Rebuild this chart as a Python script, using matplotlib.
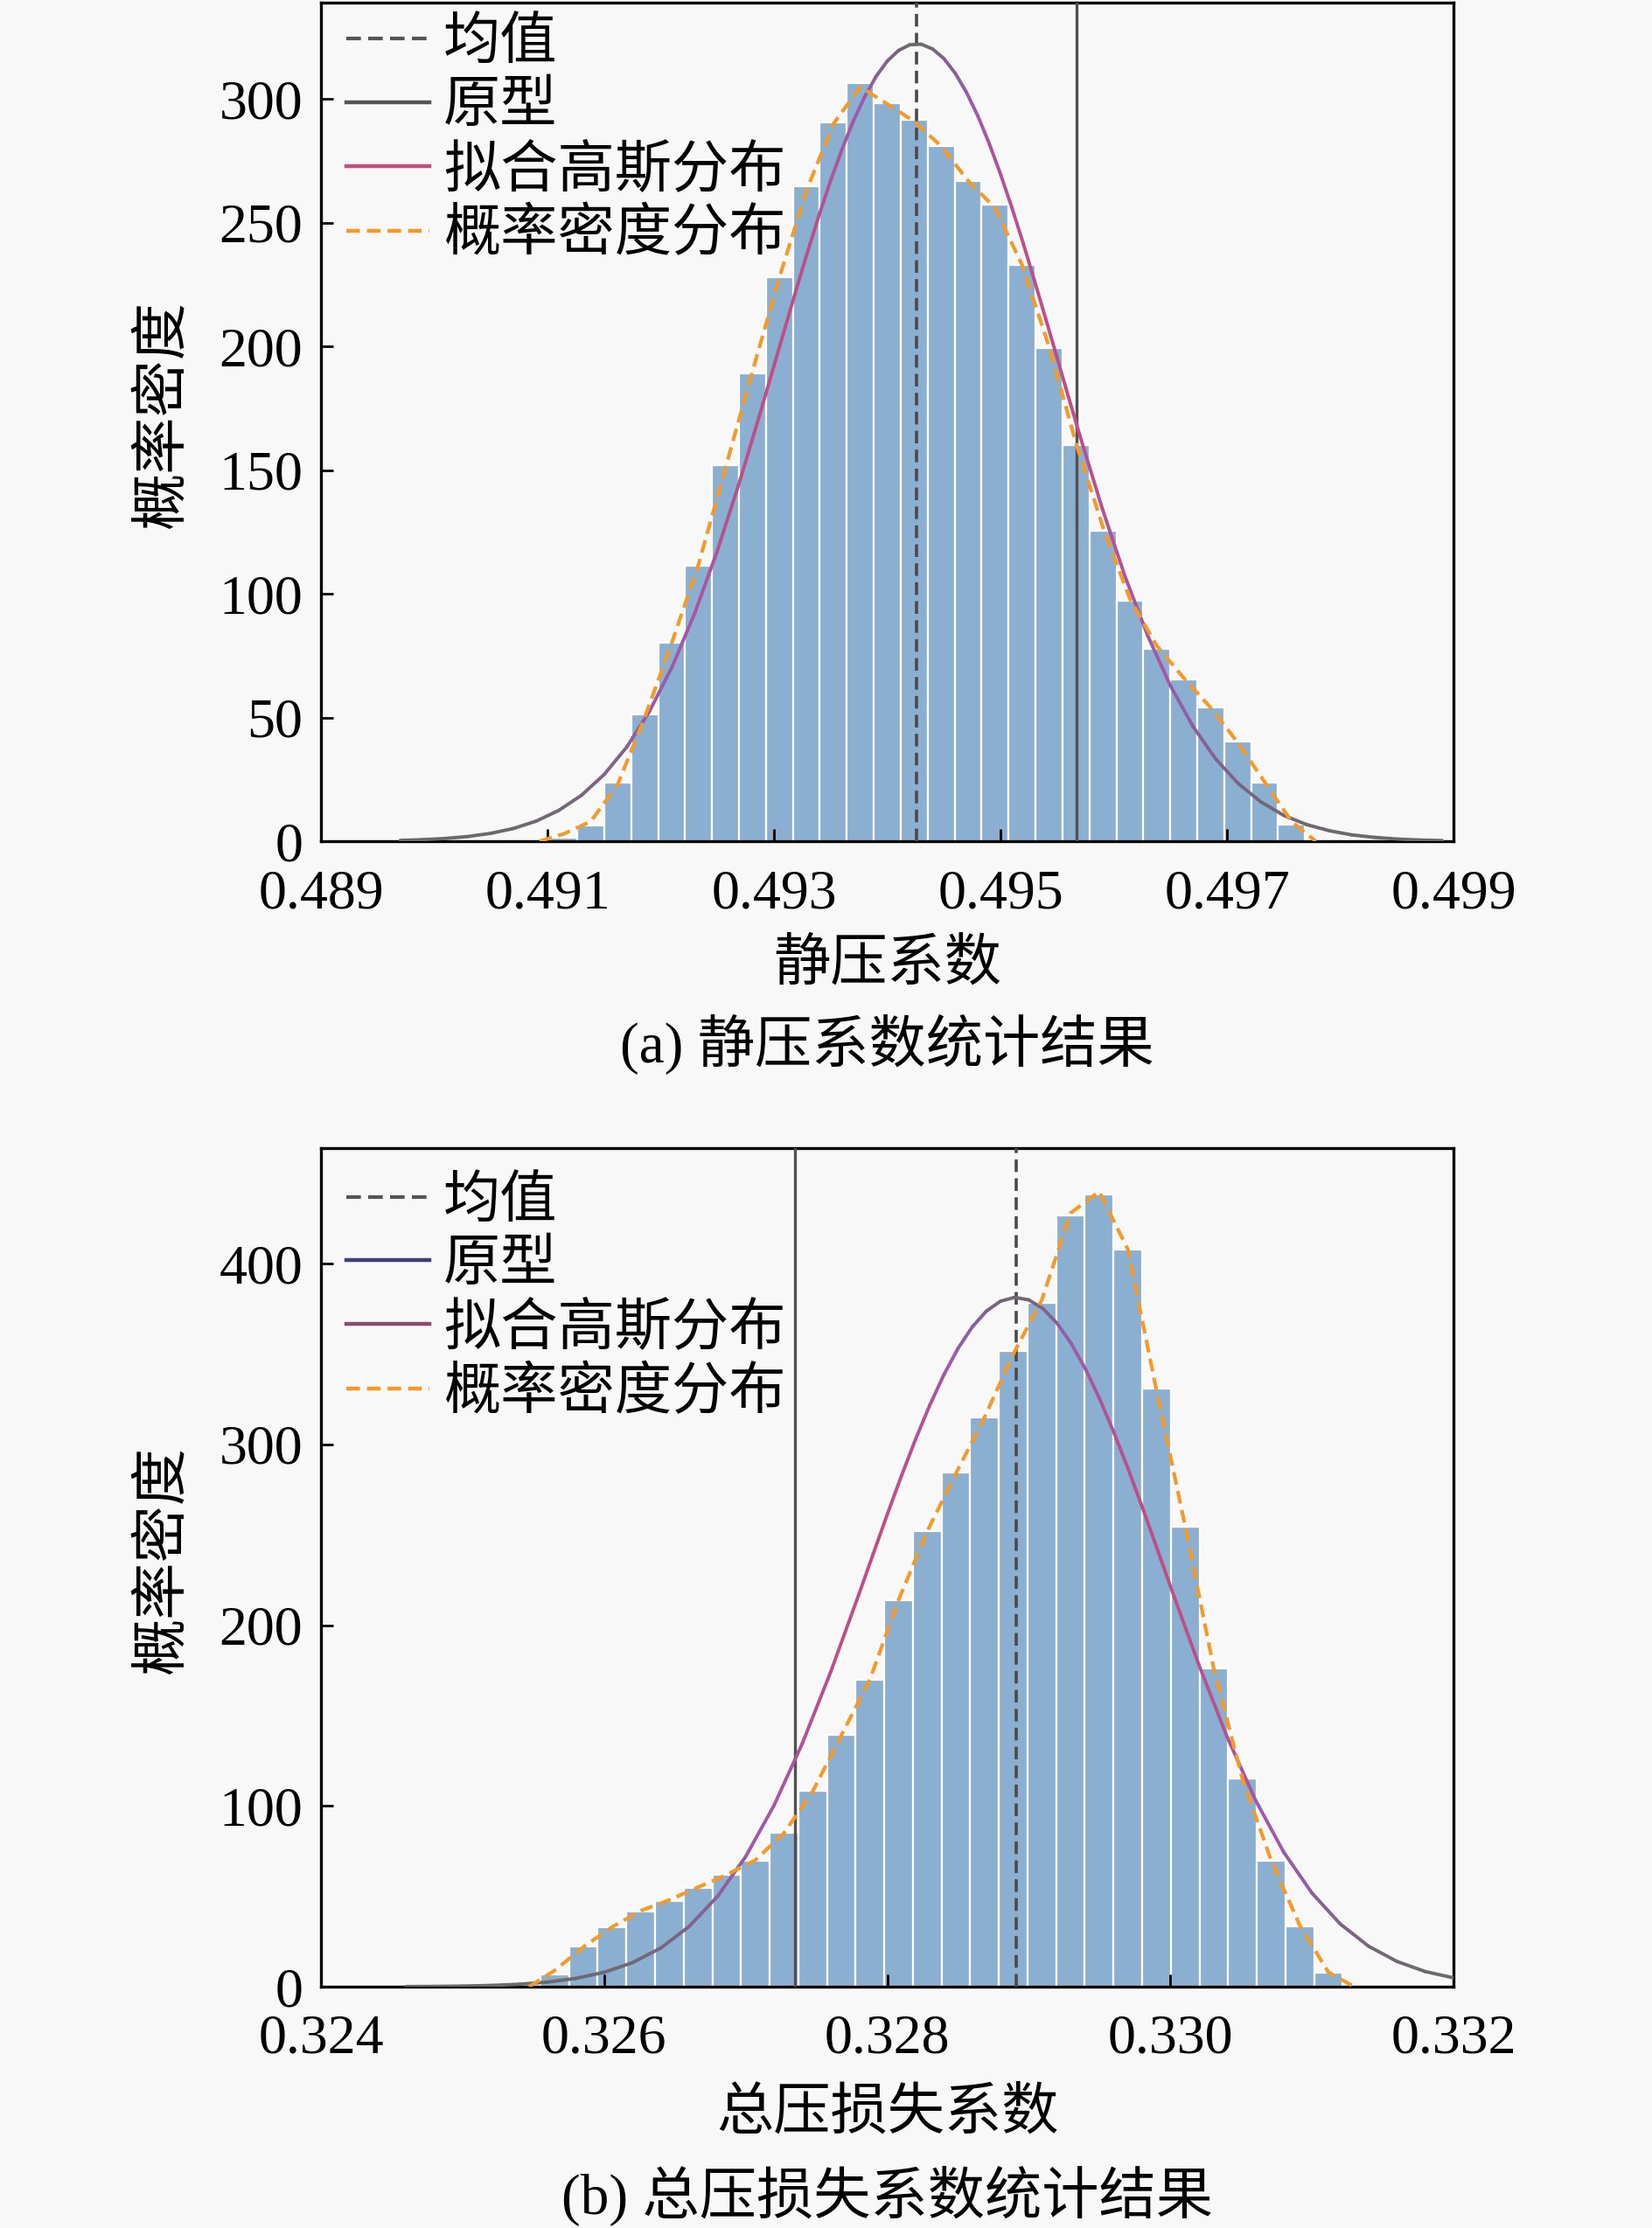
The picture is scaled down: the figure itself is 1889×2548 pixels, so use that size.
import numpy as np
import matplotlib
matplotlib.use("Agg")
import matplotlib.pyplot as plt
from matplotlib.collections import LineCollection
from matplotlib.colors import LinearSegmentedColormap
from matplotlib.lines import Line2D

plt.rcParams['font.family'] = ['Liberation Serif', 'Noto Sans CJK SC', 'DejaVu Sans']
plt.rcParams['axes.unicode_minus'] = False

# ---------------- 数据 (a) 静压系数 ----------------
a_bin_start = 0.491025
a_bin_width = 0.000238
a_counts = [1.5, 6.5, 23.6, 51.3, 80.2, 111.4, 152, 189.3, 228.2, 264.8, 290.7, 306.6,
            298.4, 291.6, 281, 266.8, 257.5, 233, 199.4, 160, 125.7, 97.4, 77.9, 65.5,
            54.3, 40.2, 23.7, 6.6]
a_kde = [0, 3, 8, 23, 50, 80, 112, 151, 190, 228, 263, 290, 305, 298, 291, 281, 267,
         256, 233, 200, 161, 127, 98, 79, 66, 54, 40, 24, 8, 0]
a_mean = 0.49426
a_proto = 0.49567
a_gauss_x = [0.4897, 0.4899, 0.4901, 0.4903, 0.4905, 0.4907, 0.4909, 0.4911, 0.4913, 0.4915,
             0.4917, 0.4919, 0.4921, 0.4923, 0.4925, 0.4927, 0.4929, 0.4930, 0.4931, 0.4932,
             0.4933, 0.4934, 0.4935, 0.4936, 0.4937, 0.4938, 0.4939, 0.4940, 0.4941, 0.4942,
             0.4943, 0.4944, 0.4945, 0.4946, 0.4947, 0.4948, 0.4949, 0.4950, 0.4951, 0.4952,
             0.4953, 0.4954, 0.4955, 0.4956, 0.4957, 0.4959, 0.4961, 0.4963, 0.4965, 0.4967,
             0.4969, 0.4971, 0.4973, 0.4975, 0.4977, 0.4979, 0.4981, 0.4983, 0.4985, 0.4987,
             0.4989]
a_gauss_y = [0.37, 0.66, 1.15, 1.95, 3.22, 5.19, 8.15, 12.5, 18.6, 27.0,
             38.1, 52.5, 70.5, 92.2, 117.5, 145.9, 176.5, 192.3, 208.0, 223.6,
             238.8, 253.4, 267.1, 279.7, 291.1, 300.9, 309.1, 315.4, 319.7, 322.0,
             322.2, 320.3, 316.4, 310.5, 302.7, 293.2, 282.1, 269.7, 256.2, 241.8,
             226.6, 211.1, 195.4, 179.6, 164.1, 134.3, 107.0, 83.1, 62.9, 46.4,
             33.3, 23.3, 15.9, 10.5, 6.8, 4.3, 2.6, 1.6, 0.92, 0.52,
             0.29]

# ---------------- 数据 (b) 总压损失系数 ----------------
b_bin_start = 0.32555
b_bin_width = 0.0002024
b_counts = [6.9, 22.3, 33, 41.6, 47.3, 54.5, 61.8, 69.8, 85.1, 108.5, 139.2, 169.8,
            214, 252, 284.3, 315, 351.7, 378.6, 426.5, 438.5, 407.7, 331, 254.5, 176.3,
            115, 69.8, 33.5, 7.7]
b_kde = [0, 9, 22, 33, 42, 48, 55, 62, 70, 85, 108, 139, 170, 214, 252, 284, 315, 350,
         380, 428, 440, 408, 330, 255, 176, 115, 70, 34, 8, 0]
b_mean = 0.32891
b_proto = 0.32735
b_gauss_x = [0.3246, 0.3248, 0.3250, 0.3252, 0.3254, 0.3256, 0.3258, 0.3260, 0.3262, 0.3264,
             0.3266, 0.3268, 0.3270, 0.3272, 0.3274, 0.3276, 0.3278, 0.3279, 0.3280, 0.3281,
             0.3282, 0.3283, 0.3284, 0.3285, 0.3286, 0.3287, 0.3288, 0.3289, 0.3290, 0.3291,
             0.3292, 0.3293, 0.3294, 0.3295, 0.3296, 0.3297, 0.3298, 0.3299, 0.3300, 0.3302,
             0.3304, 0.3306, 0.3308, 0.3310, 0.3312, 0.3314, 0.3316, 0.3318, 0.3320]
b_gauss_y = [0.08, 0.17, 0.35, 0.71, 1.37, 2.55, 4.59, 7.96, 13.3, 21.4,
             33.3, 49.9, 72.0, 100.3, 134.6, 174.1, 217.2, 239.3, 261.3, 282.6,
             302.9, 321.7, 338.6, 353.2, 365.0, 373.8, 379.3, 381.4, 380.0, 375.2,
             367.0, 355.8, 341.8, 325.3, 306.8, 286.8, 265.6, 243.7, 221.6, 178.3,
             138.3, 103.4, 74.5, 51.8, 34.7, 22.4, 14.0, 8.4, 4.9]

labels = ['均值', '原型', '拟合高斯分布', '概率密度分布']

bg = '#F8F8F8'
bar_color = '#8AAFD0'
kde_color = '#F39A2B'
gauss_cmap = LinearSegmentedColormap.from_list('g', ['#6a6a6a', '#9a5aae', '#c04e86'])


def draw_panel(ax, start, width, counts, kde, mean, proto, gx, gy,
               xlim, ylim, xticks, yticks, proto_handle, gauss_handle, leg_top):
    counts = np.array(counts)
    edges = start + width * np.arange(len(counts) + 1)
    ax.bar(edges[:-1], counts, width=width, align='edge', color=bar_color,
           edgecolor='white', linewidth=1.6, zorder=1)
    centers = (edges[:-1] + edges[1:]) / 2
    kx = np.concatenate([[edges[0] - 0.4 * width], centers, [edges[-1] + 0.4 * width]])
    ax.plot(kx, kde, color=kde_color, lw=3.0, ls=(0, (3.5, 1.8)), zorder=5)

    ax.axvline(mean, color='#4a4a4a', lw=2.6, ls=(0, (4, 2)), zorder=4)
    ax.axvline(proto, color='#505050', lw=2.4, zorder=3)

    gx = np.array(gx)
    gy = np.array(gy)
    pts = np.column_stack([gx, gy]).reshape(-1, 1, 2)
    segs = np.concatenate([pts[:-1], pts[1:]], axis=1)
    slope = np.abs(np.diff(gy) / np.diff(gx))
    lc = LineCollection(segs, cmap=gauss_cmap, linewidth=2.8, zorder=4,
                        capstyle='round', joinstyle='round')
    lc.set_array((slope / slope.max()) ** 1.3)
    lc.set_clim(0, 1)
    ax.add_collection(lc)

    ax.set_xlim(*xlim)
    ax.set_ylim(*ylim)
    ax.set_xticks(xticks)
    ax.set_xticklabels([f'{t:.3f}' for t in xticks])
    ax.set_yticks(yticks)
    ax.tick_params(direction='in', length=10, width=2, labelsize=46)
    ax.tick_params(axis='x', pad=23)
    ax.tick_params(axis='y', pad=15)
    for s in ax.spines.values():
        s.set_linewidth(2.4)
        s.set_color('black')
    ax.set_facecolor(bg)

    handles = [
        Line2D([], [], color='#555555', lw=3, ls=(0, (4, 2))),
        Line2D([], [], color=proto_handle, lw=3.2),
        Line2D([], [], color=gauss_handle, lw=3.2),
        Line2D([], [], color=kde_color, lw=3.2, ls=(0, (3.5, 1.8))),
    ]
    ax.legend(handles, labels, loc='upper left', bbox_to_anchor=(0.0224, leg_top),
              frameon=False, fontsize=47, handlelength=1.45, handletextpad=0.25,
              labelspacing=0.19, borderaxespad=0, borderpad=0)


fig = plt.figure(figsize=(18.9, 25.48), dpi=100, facecolor=bg)
ax1 = fig.add_axes([0.1942, 0.6224, 0.6852, 0.3764])
ax2 = fig.add_axes([0.1942, 0.1083, 0.6852, 0.3764])

draw_panel(ax1, a_bin_start, a_bin_width, a_counts, a_kde, a_mean, a_proto,
           a_gauss_x, a_gauss_y, (0.489, 0.499), (0, 339),
           [0.489, 0.491, 0.493, 0.495, 0.497, 0.499], [0, 50, 100, 150, 200, 250, 300],
           '#555555', '#C24E7E', 0.981)
draw_panel(ax2, b_bin_start, b_bin_width, b_counts, b_kde, b_mean, b_proto,
           b_gauss_x, b_gauss_y, (0.324, 0.332), (0, 464),
           [0.324, 0.326, 0.328, 0.330, 0.332], [0, 100, 200, 300, 400],
           '#3E3E7A', '#8C4A6E', 0.966)

fs = 47
fig.text(0.0989, 0.8136, '概率密度', rotation=90, ha='center', va='center', fontsize=fs)
fig.text(0.0989, 0.2998, '概率密度', rotation=90, ha='center', va='center', fontsize=fs)
fig.text(0.5368, 0.5665, '静压系数', ha='center', va='center', fontsize=fs)
fig.text(0.5368, 0.5314, '(a) 静压系数统计结果', ha='center', va='center', fontsize=fs)
fig.text(0.5368, 0.0510, '总压损失系数', ha='center', va='center', fontsize=fs)
fig.text(0.5368, 0.0145, '(b) 总压损失系数统计结果', ha='center', va='center', fontsize=fs)

fig.savefig('out.png', dpi=100, facecolor=bg)
